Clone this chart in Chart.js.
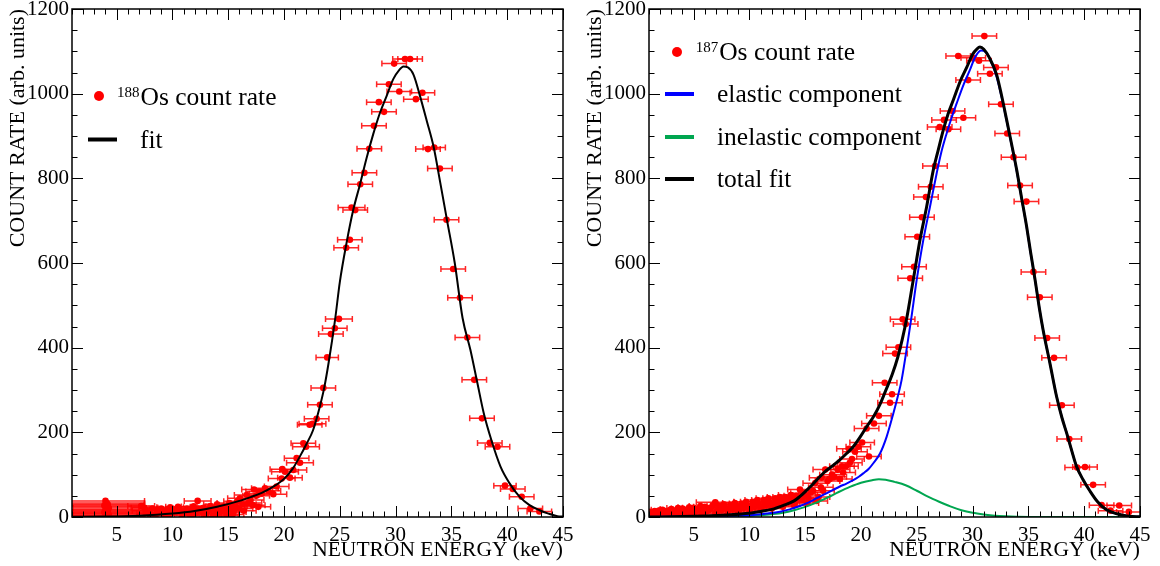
<!DOCTYPE html>
<html>
<head>
<meta charset="utf-8">
<script src="https://cdn.jsdelivr.net/npm/chart.js@4/dist/chart.umd.min.js"></script>
<style>
  body { margin: 0; background: #fff; }
  .panel { position: absolute; top: 0; width: 580px; height: 566px; }
</style>
</head>
<body>
<div class="panel" style="left:0"><canvas id="leftChart" width="580" height="566"></canvas></div>
<div class="panel" style="left:580px"><canvas id="rightChart" width="580" height="566"></canvas></div>
<script>
// axis ticks and titles
const xTicks = [5, 10, 15, 20, 25, 30, 35, 40, 45];
const yTicks = [0, 200, 400, 600, 800, 1000, 1200];
const xTitle = 'NEUTRON ENERGY (keV)';
const yTitle = 'COUNT RATE (arb. units)';

// 188Os measured points (energy in keV, rate, horizontal error)
const os188Energy = [4.0, 4.1, 4.2, 3.9, 4.1, 4.3, 4.0, 4.2, 4.1, 3.9, 4.2, 4.0, 4.3, 4.1, 4.0,
  7.6, 7.9, 8.2, 8.5, 8.6, 8.9, 9.2, 9.5, 9.8, 10.0,
  10.3, 10.6, 10.9, 11.1, 11.3, 11.6, 11.9, 12.1, 12.26, 12.5,
  12.8, 13.0, 13.2, 13.4, 13.7, 14.0, 14.2, 14.5, 14.7, 14.9,
  15.1, 15.25, 15.5, 15.8, 16.05, 16.3, 16.65, 17.0, 17.31, 17.5,
  17.7, 17.78, 18.0, 18.29, 18.6, 19.04, 19.34, 19.79, 19.85, 20.09,
  20.53, 20.83, 21.13, 21.43, 21.73, 21.97, 22.3, 22.55, 22.92, 23.22,
  23.52, 23.87, 24.2, 24.55, 24.92, 25.57, 25.9, 26.05, 26.38, 26.83,
  27.2, 27.64, 28.06, 28.5, 28.96, 29.4, 29.87, 30.33, 30.84, 31.3,
  31.82, 32.4, 32.9, 33.46, 33.97, 34.56, 35.16, 35.77, 36.43, 37.05,
  37.74, 38.44, 39.13, 39.8, 40.5, 41.3, 42.07, 42.88,
  // extra low-energy points in the dense band
  7.2, 7.5, 8.0, 8.8, 9.0, 9.6, 10.2, 10.5, 10.8, 11.4,
  11.8, 12.0, 12.7, 13.3, 13.6, 13.9, 14.4, 14.8, 15.3, 15.4,
  15.6, 16.0, 16.4, 16.8, 17.2];
const os188Rate = [38, 33, 30, 27, 24, 21, 18, 16, 13, 11, 9, 7, 5, 3, 1,
  15, 9, 20, 5, 18, 12, 7, 16, 23, 10,
  14, 19, 6, 12, 20, 15, 25, 9, 38, 18,
  22, 6, 14, 26, 20, 30, 10, 24, 16, 4,
  33, 28, 12, 37, 44, 30, 52, 40, 65, 50,
  24, 60, 55, 68, 62, 54, 72, 91, 113, 107,
  93, 111, 139, 128, 174, 166, 218, 220, 232, 265,
  305, 377, 432, 446, 468, 636, 655, 731, 725, 786,
  813, 870, 924, 980, 957, 1022, 1071, 1005, 1082, 1082,
  987, 1002, 869, 873, 823, 702, 586, 518, 424, 324,
  233, 175, 166, 74, 66, 48, 20, 13,
  26, 22, 3, 10, 20, 4, 17, 24, 13, 8,
  3, 16, 11, 19, 2, 8, 14, 21, 18, 6,
  25, 20, 15, 33, 28];
const os188Err = [3.5, 3.4, 3.3, 3.5, 3.4, 3.2, 3.5, 3.3, 3.4, 3.5, 3.3, 3.4, 3.2, 3.4, 3.5,
  1.2, 1.1, 1.2, 1.0, 1.1, 1.2, 1.0, 1.1, 1.2, 1.0,
  1.1, 1.2, 1.0, 1.1, 1.0, 1.2, 1.1, 1.0, 1.2, 1.1,
  1.2, 1.0, 1.1, 1.2, 1.1, 1.2, 1.0, 1.1, 1.2, 1.0,
  1.1, 1.2, 1.1, 1.2, 1.1, 1.2, 1.1, 1.2, 1.1, 1.2,
  1.1, 1.2, 1.1, 1.2, 1.1, 1.2, 1.1, 1.2, 1.1, 1.2,
  1.1, 1.2, 1.1, 1.2, 1.1, 1.2, 1.1, 1.2, 1.1, 1.1,
  1.1, 1.0, 1.1, 1.1, 1.2, 1.1, 1.1, 1.2, 1.1, 1.1,
  1.1, 1.1, 1.1, 1.1, 1.1, 1.1, 1.1, 1.1, 1.1, 1.1,
  1.1, 1.1, 1.1, 1.0, 1.1, 1.1, 1.1, 1.1, 1.1, 1.1,
  1.1, 1.1, 1.1, 1.0, 1.1, 1.1, 1.1, 1.1,
  1.2, 1.2, 1.1, 1.2, 1.1, 1.0, 1.2, 1.1, 1.2, 1.0,
  1.1, 1.2, 1.1, 1.2, 1.0, 1.1, 1.2, 1.1, 1.2, 1.0,
  1.1, 1.2, 1.1, 1.2, 1.1];

// 188Os fit curve
const os188FitEnergy = [1, 4, 7, 10, 12, 14, 16, 17, 18, 19, 20, 20.8, 21.4, 22, 22.6, 23.2, 23.6, 24, 24.57, 25,
  25.6, 26.2, 26.8, 27.4, 28, 28.6, 29.2, 29.8, 30.3, 30.7, 31.1, 31.6, 32.2, 32.8, 33.4, 34, 34.6, 35.3, 36, 36.7,
  37.3, 37.9, 38.6, 39.4, 40.2, 41.1, 42, 42.9, 43.7, 44.5, 45];
const os188FitRate = [0.5, 1, 3, 8, 14, 24, 38, 47, 57, 71, 90, 115, 142, 172, 205, 260, 305, 365, 465, 555,
  647, 725, 785, 848, 905, 955, 995, 1035, 1055, 1064, 1062, 1045, 993, 935, 875, 790, 702, 600, 470, 395,
  320, 245, 180, 119, 80, 48, 28, 16, 8, 2, 1];

// 187Os measured points
const os187Energy = [1.2, 1.5, 1.7, 2.0, 2.2, 2.5, 2.7, 3.0, 3.2, 3.5,
  3.7, 4.0, 4.2, 4.5, 4.7, 5.0, 5.2, 5.5, 5.7, 6.0,
  6.2, 6.5, 6.94, 7.0, 7.3, 7.5, 7.8, 8.0, 8.3, 8.5,
  8.8, 9.0, 9.3, 9.5, 9.8, 10.0, 10.3, 10.5, 10.8, 11.0,
  11.3, 11.5, 11.8, 12.0, 12.3, 12.5, 12.8, 13.0, 13.2, 13.5,
  13.8, 14.0, 14.2, 14.53, 14.7, 14.98, 15.2, 15.5, 15.9, 16.2,
  16.47, 16.6, 16.8, 17.2, 17.6, 18.1, 18.29, 18.65, 18.92, 19.19,
  19.46, 19.76, 20.1, 20.5, 20.71, 21.16, 21.6, 22.12, 22.6, 22.78,
  23.05, 23.35, 23.73, 24.0, 24.41, 24.75, 25.04, 25.46, 25.82, 26.25,
  26.63, 27.05, 27.44, 27.83, 28.2, 28.71, 29.17, 29.6, 30.06, 30.57,
  31.05, 31.55, 32.09, 32.54, 33.1, 33.67, 34.25, 34.82, 35.45, 36.02,
  36.68, 37.3, 38.0, 38.66, 39.37, 40.07, 40.8, 41.56, 42.36, 43.14,
  44.0,
  // extra low-energy points in the dense band
  1.1, 1.4, 1.9, 2.3, 2.6, 2.9, 3.3, 3.6, 3.9, 4.3,
  4.6, 4.9, 5.3, 5.6, 5.9, 6.3, 6.7, 7.1, 7.4, 7.7,
  8.1, 8.4, 8.7, 9.1, 9.4, 9.7, 10.1, 10.4, 10.7, 11.1,
  11.4, 11.7, 12.1, 12.4, 12.7, 13.1, 13.4, 13.7, 14.1, 14.4,
  14.8, 15.3, 15.7, 16.0, 16.4, 17.0, 17.4, 17.9, 18.4, 19.0];
const os187Rate = [8, 14, 4, 11, 17, 6, 13, 19, 9, 15,
  3, 20, 11, 17, 7, 22, 13, 18, 5, 24,
  14, 20, 35, 9, 26, 16, 22, 6, 29, 18,
  25, 11, 32, 21, 27, 14, 36, 24, 31, 17,
  40, 28, 35, 20, 44, 32, 39, 24, 47, 36,
  42, 28, 50, 65, 40, 52, 33, 58, 80, 47,
  93, 62, 112, 90, 95, 90, 120, 120, 161, 137,
  154, 166, 176, 209, 143, 221, 239, 317, 270, 290,
  386, 401, 467, 456, 564, 591, 662, 708, 756, 780,
  829, 921, 938, 916, 959, 1089, 943, 1032, 1085, 1078,
  1136, 1047, 1062, 975, 906, 850, 783, 745, 579, 519,
  423, 376, 264, 184, 117, 118, 76, 28, 15, 27,
  12,
  12, 5, 15, 2, 9, 16, 12, 21, 7, 14,
  23, 10, 16, 26, 12, 18, 27, 13, 21, 30,
  15, 24, 33, 18, 27, 36, 20, 30, 40, 23,
  34, 44, 26, 37, 47, 30, 41, 52, 34, 45,
  56, 44, 62, 38, 70, 85, 100, 112, 105, 128];
const os187Err = [1.0, 1.0, 1.0, 1.0, 1.0, 1.0, 1.0, 1.0, 1.0, 1.0,
  1.0, 1.0, 1.0, 1.0, 1.0, 1.0, 1.0, 1.0, 1.0, 1.0,
  1.0, 1.0, 1.7, 1.0, 1.1, 1.0, 1.1, 1.0, 1.1, 1.0,
  1.1, 1.0, 1.1, 1.0, 1.1, 1.0, 1.1, 1.0, 1.1, 1.0,
  1.1, 1.0, 1.1, 1.0, 1.1, 1.0, 1.1, 1.0, 1.1, 1.0,
  1.1, 1.0, 1.1, 1.1, 1.0, 1.1, 1.0, 1.1, 1.1, 1.0,
  1.1, 1.0, 1.1, 1.1, 1.1, 1.1, 1.1, 1.1, 1.1, 1.1,
  1.1, 1.1, 1.1, 1.1, 1.1, 1.1, 1.1, 1.1, 1.1, 1.1,
  1.1, 1.1, 1.1, 1.1, 1.1, 1.1, 1.1, 1.1, 1.1, 1.1,
  1.1, 1.1, 1.1, 1.1, 1.1, 1.1, 1.1, 1.1, 1.1, 1.1,
  1.1, 1.1, 1.1, 1.1, 1.1, 1.1, 1.1, 1.1, 1.1, 1.1,
  1.1, 1.1, 1.1, 1.1, 1.1, 1.1, 1.1, 1.1, 1.1, 1.1,
  1.1,
  1.0, 1.0, 1.0, 1.0, 1.0, 1.0, 1.0, 1.0, 1.0, 1.0,
  1.0, 1.0, 1.0, 1.0, 1.0, 1.0, 1.0, 1.0, 1.0, 1.0,
  1.0, 1.0, 1.1, 1.0, 1.0, 1.1, 1.0, 1.0, 1.1, 1.0,
  1.0, 1.1, 1.0, 1.0, 1.1, 1.0, 1.0, 1.1, 1.0, 1.0,
  1.1, 1.0, 1.1, 1.0, 1.1, 1.1, 1.1, 1.1, 1.1, 1.1];

// 187Os fit: total, elastic and inelastic components
const totalFitEnergy = [1, 4, 6, 8, 10, 11, 12, 13, 14, 14.5, 15, 15.7, 16.3, 16.9, 17.5, 18.1, 18.7, 19.3, 19.9, 20.5,
  21.1, 21.7, 22.2, 22.8, 23.3, 23.7, 24.1, 24.68, 25.28, 25.88, 26.48, 26.9, 27.37, 27.8, 28.27, 28.9, 29.47, 30, 30.4, 30.66,
  31, 31.5, 32.15, 32.6, 33.05, 33.5, 33.95, 34.4, 34.84, 35.2, 35.6, 36, 36.33, 36.93, 37.53, 38, 38.43, 38.9, 39.32, 39.9,
  40.5, 41.2, 42, 43, 44, 45];
const totalFitRate = [0, 1, 2.5, 5, 9, 13, 18, 27, 38, 48, 60, 78, 95, 110, 122, 135, 150, 166, 188, 213,
  236, 266, 298, 337, 378, 420, 470, 560, 654, 733, 820, 865, 914, 952, 985, 1030, 1062, 1093, 1106, 1110,
  1105, 1085, 1045, 995, 938, 880, 820, 752, 686, 625, 560, 490, 440, 363, 284, 235, 198, 155, 119, 88,
  62, 36, 17, 7, 2, 0.5];
const elasticEnergy = [1, 6.2, 8, 10.35, 11.5, 12.74, 13.6, 14.53, 15.1, 15.72, 16.3, 16.9, 17.5, 18.1, 18.7, 19.3, 19.8, 20.2, 20.7, 21.1,
  21.7, 22.3, 22.9, 23.3, 23.64, 24.05, 24.48, 24.99, 25.58, 26.18, 26.78, 27.2, 27.67, 28.1, 28.57, 29.2, 29.76, 30.2, 30.75, 31.2,
  31.6, 32.15, 32.6, 33.05, 33.5, 33.95, 34.4, 34.84, 35.2, 35.6, 36, 36.33, 36.93, 37.53, 38, 38.43, 38.9, 39.32, 39.9, 40.5,
  41.2, 42, 43, 44, 45];
const elasticRate = [0, 1.5, 2.5, 4.7, 8, 12.5, 18, 26, 32, 40, 48, 56, 64, 72, 79, 87, 95, 103, 114, 127,
  150, 190, 245, 285, 324, 390, 465, 560, 654, 733, 812, 862, 906, 942, 977, 1022, 1056, 1085, 1102, 1098,
  1080, 1040, 992, 936, 878, 818, 751, 685, 624, 559, 490, 440, 363, 284, 235, 198, 155, 119, 88, 62,
  36, 17, 7, 2, 0.5];
const inelasticEnergy = [1, 6, 8, 10, 11, 12, 13, 14, 15, 16, 17, 18, 19, 20, 21, 21.6, 22.2, 23, 24, 25,
  26, 27, 28, 29, 30, 31, 32, 33, 34, 36, 40, 45];
const inelasticRate = [0, 0.3, 1, 2.5, 4, 6.5, 10, 16, 24, 34, 46, 59, 71, 81, 87, 89, 88, 83, 75, 62,
  48, 36, 25, 16, 10, 6, 3, 1.5, 0.7, 0.2, 0, 0];

// legend texts
const leftIsotope = '188';
const leftLegendLabels = ['Os count rate', 'fit'];
const rightIsotope = '187';
const rightLegendLabels = ['Os count rate', 'elastic component', 'inelastic component', 'total fit'];

const RED = '#ff0000';
const BLUE = '#0000ff';
const GREEN = '#00a650';
const FONT = 'Liberation Serif';

function toXY(xs, ys) {
    return xs.map((x, i) => ({ x: x, y: ys[i] }));
}

// horizontal error bars with small end caps, drawn under the points
const xErrorBars = {
    id: 'xErrorBars',
    beforeDatasetsDraw(chart) {
        const { ctx, chartArea: a, scales: { x, y } } = chart;
        ctx.save();
        ctx.beginPath();
        ctx.rect(a.left, a.top, a.right - a.left, a.bottom - a.top);
        ctx.clip();
        chart.data.datasets.forEach(ds => {
            if (!ds.xErr) return;
            ctx.strokeStyle = 'rgba(255, 0, 0, 0.85)';
            ctx.lineWidth = 1.5;
            ds.data.forEach((p, i) => {
                const x0 = x.getPixelForValue(p.x - ds.xErr[i]);
                const x1 = x.getPixelForValue(p.x + ds.xErr[i]);
                const py = y.getPixelForValue(p.y);
                ctx.beginPath();
                ctx.moveTo(x0, py); ctx.lineTo(x1, py);
                ctx.moveTo(x0, py - 3); ctx.lineTo(x0, py + 3);
                ctx.moveTo(x1, py - 3); ctx.lineTo(x1, py + 3);
                ctx.stroke();
            });
        });
        ctx.restore();
    }
};

// box frame and inward ticks on all four sides
const frameTicks = {
    id: 'frameTicks',
    afterDatasetsDraw(chart, args, opts) {
        const { ctx, chartArea: a, scales: { x, y } } = chart;
        ctx.save();
        ctx.strokeStyle = '#000';
        ctx.lineWidth = 1;
        ctx.beginPath();
        for (let v = x.min; v <= x.max; v += opts.xMinor) {
            const px = Math.round(x.getPixelForValue(v)) + 0.5;
            const len = xTicks.includes(v) ? opts.major : opts.minor;
            ctx.moveTo(px, a.bottom); ctx.lineTo(px, a.bottom - len);
            ctx.moveTo(px, a.top); ctx.lineTo(px, a.top + len);
        }
        for (let v = y.min; v <= y.max; v += opts.yMinor) {
            const py = Math.round(y.getPixelForValue(v)) + 0.5;
            const len = yTicks.includes(v) ? opts.major : opts.minor;
            ctx.moveTo(a.left, py); ctx.lineTo(a.left + len, py);
            ctx.moveTo(a.right, py); ctx.lineTo(a.right - len, py);
        }
        ctx.stroke();
        ctx.lineWidth = 1.5;
        ctx.strokeRect(a.left, a.top, a.right - a.left, a.bottom - a.top);
        ctx.restore();
    }
};

// legend drawn inside the plot area
const insideLegend = {
    id: 'insideLegend',
    afterDraw(chart, args, opts) {
        const ctx = chart.ctx;
        ctx.save();
        ctx.textAlign = 'left';
        ctx.textBaseline = 'alphabetic';
        opts.items.forEach(it => {
            if (it.marker === 'dot') {
                ctx.fillStyle = it.color;
                ctx.beginPath();
                ctx.arc(it.mx, it.my, 5, 0, Math.PI * 2);
                ctx.fill();
            } else {
                ctx.strokeStyle = it.color;
                ctx.lineWidth = 4;
                ctx.beginPath();
                ctx.moveTo(it.mx - 14.5, it.my);
                ctx.lineTo(it.mx + 14.5, it.my);
                ctx.stroke();
            }
            ctx.fillStyle = '#000';
            let tx = it.tx;
            if (it.sup) {
                ctx.font = '15px "' + FONT + '"';
                ctx.fillText(it.sup, tx, it.ty - 8);
                tx += ctx.measureText(it.sup).width + 1;
            }
            ctx.font = '25.5px "' + FONT + '"';
            ctx.fillText(it.text, tx, it.ty);
        });
        ctx.restore();
    }
};

function makeOptions(yWidth, rightPad, titlePad, legendItems) {
    return {
        responsive: false,
        animation: false,
        devicePixelRatio: 1,
        layout: { padding: { left: 0, top: 9, right: rightPad, bottom: 0 } },
        scales: {
            x: {
                type: 'linear', min: 1, max: 45,
                afterBuildTicks: s => { s.ticks = xTicks.map(v => ({ value: v })); },
                afterFit: s => { s.height = 49; s.paddingLeft = 0; s.paddingRight = 0; },
                grid: { display: false, drawTicks: false },
                border: { display: false },
                ticks: { color: '#000', padding: 6, maxRotation: 0, autoSkip: false, font: { family: FONT, size: 21 },
                         callback: v => String(v) },
                title: { display: true, text: xTitle, align: 'end', color: '#000', font: { family: FONT, size: 21.5 }, padding: { top: 0, bottom: 3 } }
            },
            y: {
                min: 0, max: 1200,
                afterBuildTicks: s => { s.ticks = yTicks.map(v => ({ value: v })); },
                afterFit: s => { s.width = yWidth; s.paddingTop = 0; s.paddingBottom = 0; },
                grid: { display: false, drawTicks: false },
                border: { display: false },
                ticks: { color: '#000', padding: 3, font: { family: FONT, size: 21 }, callback: v => String(v) },
                title: { display: true, text: yTitle, align: 'end', color: '#000', font: { family: FONT, size: 22 }, padding: { top: titlePad, bottom: 0 } }
            }
        },
        plugins: {
            legend: { display: false },
            tooltip: { enabled: false },
            frameTicks: { xMinor: 1, yMinor: 50, major: 11, minor: 5.5 },
            insideLegend: { items: legendItems }
        }
    };
}

const pointStyle = { pointRadius: 3.3, pointHoverRadius: 3.3, pointBackgroundColor: RED, pointBorderWidth: 0, showLine: false };
const curveStyle = { showLine: true, pointRadius: 0, pointHoverRadius: 0, cubicInterpolationMode: 'monotone' };

new Chart(document.getElementById('leftChart'), {
    type: 'scatter',
    data: {
        datasets: [
            { ...curveStyle, label: 'fit', data: toXY(os188FitEnergy, os188FitRate), borderColor: '#000', borderWidth: 2, order: 0 },
            { ...pointStyle, label: '188Os count rate', data: toXY(os188Energy, os188Rate), xErr: os188Err, order: 1 }
        ]
    },
    options: makeOptions(72, 17, 5, [
        { marker: 'dot', color: RED, mx: 99, my: 96, tx: 117, ty: 105, sup: leftIsotope, text: leftLegendLabels[0] },
        { marker: 'line', color: '#000', mx: 102.5, my: 139.5, tx: 140, ty: 148, text: leftLegendLabels[1] }
    ]),
    plugins: [xErrorBars, frameTicks, insideLegend]
});

new Chart(document.getElementById('rightChart'), {
    type: 'scatter',
    data: {
        datasets: [
            { ...curveStyle, label: 'total fit', data: toXY(totalFitEnergy, totalFitRate), borderColor: '#000', borderWidth: 3, order: 0 },
            { ...curveStyle, label: 'elastic component', data: toXY(elasticEnergy, elasticRate), borderColor: BLUE, borderWidth: 2, order: 1 },
            { ...curveStyle, label: 'inelastic component', data: toXY(inelasticEnergy, inelasticRate), borderColor: GREEN, borderWidth: 2, order: 2 },
            { ...pointStyle, label: '187Os count rate', data: toXY(os187Energy, os187Rate), xErr: os187Err, order: 3 }
        ]
    },
    options: makeOptions(69, 20, 2, [
        { marker: 'dot', color: RED, mx: 97, my: 52, tx: 115.7, ty: 60, sup: rightIsotope, text: rightLegendLabels[0] },
        { marker: 'line', color: BLUE, mx: 99.5, my: 94, tx: 137, ty: 102, text: rightLegendLabels[1] },
        { marker: 'line', color: GREEN, mx: 99.5, my: 137, tx: 137, ty: 144.5, text: rightLegendLabels[2] },
        { marker: 'line', color: '#000', mx: 99.5, my: 179, tx: 137, ty: 187, text: rightLegendLabels[3] }
    ]),
    plugins: [xErrorBars, frameTicks, insideLegend]
});
</script>
</body>
</html>
